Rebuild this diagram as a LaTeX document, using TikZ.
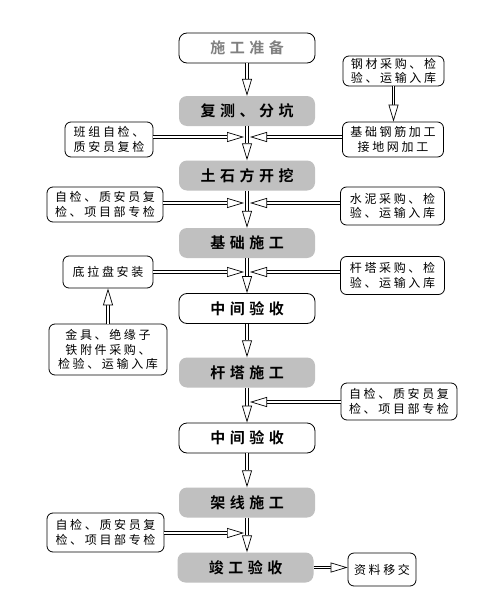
\documentclass[tikz,border=0pt]{standalone}
\usepackage{fontspec}
\usepackage{xcolor}
\usepackage{tikz}
\usetikzlibrary{arrows.meta}
\newfontfamily\cjk{Noto Sans CJK SC}[BoldFont={Noto Sans CJK SC Bold}]
\definecolor{boxgray}{HTML}{C0C0C0}
\definecolor{textgray}{HTML}{808080}

\begin{document}
\begin{tikzpicture}[x=1pt, y=-1pt,
    stage/.style={rounded corners=8pt, minimum width=136pt, minimum height=30pt,
      inner sep=1pt, font=\cjk\bfseries\fontsize{15}{18}\selectfont\addfontfeature{LetterSpace=30}},
    whitestage/.style={stage, draw, line width=0.8pt},
    graystage/.style={stage, fill=boxgray},
    sidebox/.style={draw, line width=0.8pt, rounded corners=6pt, align=center, inner sep=1pt,
      font=\cjk\fontsize{12}{14.5}\selectfont\addfontfeature{LetterSpace=22}},
    dbl/.style={draw, line width=0.7pt, double, double distance=1.8pt,
      -{Triangle[open, fill=white, line width=0.7pt, length=17pt, width=10pt]}}]
  \fill[white] (0,0) rectangle (493,594);
  \useasboundingbox (0,0) rectangle (493,594);
  % main column
  \foreach \name/\xp/\yp/\kind/\txt in {%
    prep/247/48/whitestage/{\textcolor{textgray}{施工准备}},
    survey/247/111/graystage/{复测、分坑},
    earth/247/175.5/graystage/{土石方开挖},
    found/247/243/graystage/{基础施工},
    check1/247/308.5/whitestage/{中间验收},
    tower/247/372.5/graystage/{杆塔施工},
    check2/247/438/whitestage/{中间验收},
    wire/247/502.5/graystage/{架线施工},
    done/245.5/567.5/graystage/{竣工验收}
    } {
    \node[\kind] (\name) at (\xp, \yp) {\txt};
  }
  \foreach \a/\b in {prep/survey, survey/earth, earth/found, found/check1,
      check1/tower, tower/check2, check2/wire, wire/done}
    \draw[dbl] (\a.south) -- (\a.south |- \b.north);
  % side boxes
  \node[sidebox, minimum width=101pt, minimum height=30pt] (steel) at (393.5, 71) {钢材采购、检\\验、运输入库};
  \node[sidebox, minimum width=101pt, minimum height=35pt] (rebar) at (393, 139.5) {基础钢筋加工\\接地网加工};
  \node[sidebox, minimum width=88pt, minimum height=35pt] (crew) at (109, 139.5) {班组自检、\\质安员复检};
  \node[sidebox, minimum width=116pt, minimum height=35pt] (selfA) at (105, 204.5) {自检、质安员复\\检、项目部专检};
  \node[sidebox, minimum width=104pt, minimum height=38pt] (cement) at (392.5, 206) {水泥采购、检\\验、运输入库};
  \node[sidebox, minimum width=90pt, minimum height=32pt] (plate) at (108, 272) {底拉盘安装};
  \node[sidebox, minimum width=104pt, minimum height=38pt] (towerbuy) at (392.5, 275.5) {杆塔采购、检\\验、运输入库};
  \node[sidebox, minimum width=118pt, minimum height=51pt] (fitting) at (108, 349.5) {金具、绝缘子\\铁附件采购、\\检验、运输入库};
  \node[sidebox, minimum width=116pt, minimum height=37pt] (selfB) at (399, 401.5) {自检、质安员复\\检、项目部专检};
  \node[sidebox, minimum width=117pt, minimum height=39pt] (selfC) at (105.5, 532.5) {自检、质安员复\\检、项目部专检};
  \node[sidebox, minimum width=68pt, minimum height=33pt] (archive) at (382, 569.5) {资料移交};
  % side arrows
  \draw[dbl] (steel.south) -- (steel.south |- rebar.north);
  \draw[dbl] (fitting.north) -- (fitting.north |- plate.south);
  \draw[dbl] (done.east) -- (done.east -| archive.west);
  \foreach \yp/\n in {137/1, 203/2, 272/3, 402/4, 533/5} {
    \coordinate (jl\n) at (244, \yp);
    \coordinate (jr\n) at (250, \yp);
  }
  \draw[dbl] (crew.east |- jl1) -- (jl1);
  \draw[dbl] (rebar.west |- jr1) -- (jr1);
  \draw[dbl] (selfA.east |- jl2) -- (jl2);
  \draw[dbl] (cement.west |- jr2) -- (jr2);
  \draw[dbl] (plate.east |- jl3) -- (jl3);
  \draw[dbl] (towerbuy.west |- jr3) -- (jr3);
  \draw[dbl] (selfB.west |- jr4) -- (jr4);
  \draw[dbl] (selfC.east |- jl5) -- (jl5);
\end{tikzpicture}
\end{document}
